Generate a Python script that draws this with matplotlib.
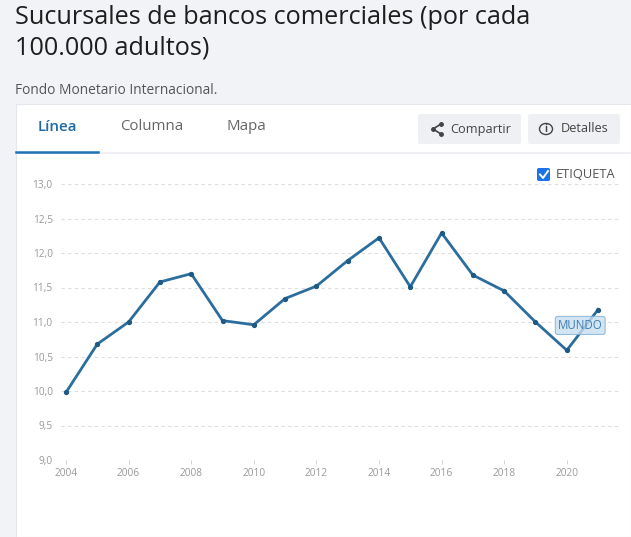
import matplotlib
matplotlib.use("Agg")
import matplotlib.pyplot as plt
from matplotlib.patches import Rectangle, FancyBboxPatch, Circle
from matplotlib.lines import Line2D

plt.rcParams['font.family'] = ['Open Sans', 'DejaVu Sans']

years = list(range(2004, 2022))
values = [9.98, 10.68, 11.00, 11.58, 11.70, 11.02, 10.96, 11.34, 11.52,
          11.89, 12.22, 11.51, 12.29, 11.68, 11.45, 11.00, 10.59, 11.18]
x_ticks = list(range(2004, 2021, 2))
y_ticks = [9.0, 9.5, 10.0, 10.5, 11.0, 11.5, 12.0, 12.5, 13.0]
series_label = "MUNDO"

W, H = 631, 537
fig = plt.figure(figsize=(W / 100, H / 100), dpi=100, facecolor='#f1f3f7')


def fx(px):
    return px / W


def fy(py):
    return 1 - py / H


# white card (behind the axes)
fig.add_artist(Rectangle((fx(16), 0), 1 - fx(16), fy(104), transform=fig.transFigure,
                         facecolor='white', edgecolor='#e4e7ec', lw=0.8, zorder=-10))

# header texts
fig.text(fx(15), fy(17), "Sucursales de bancos comerciales (por cada", fontsize=18.2,
         color='#1e1e1e', va='center', ha='left')
fig.text(fx(15), fy(48), "100.000 adultos)", fontsize=18.2, color='#1e1e1e', va='center', ha='left')
fig.text(fx(15), fy(91), "Fondo Monetario Internacional.", fontsize=9.9, color='#555555',
         va='center', ha='left')

# tabs
fig.text(fx(38), fy(127), "Línea", fontsize=10.8, color='#1d6aa5', weight='semibold',
         va='center', ha='left')
fig.text(fx(120), fy(127), "Columna", fontsize=10.8, color='#666666', va='center', ha='left')
fig.text(fx(226), fy(127), "Mapa", fontsize=10.8, color='#666666', va='center', ha='left')
fig.add_artist(Line2D([fx(16), 1], [fy(153), fy(153)], transform=fig.transFigure,
                      color='#eceef1', lw=1.2))
fig.add_artist(Line2D([fx(16), fx(98)], [fy(152), fy(152)], transform=fig.transFigure,
                      color='#1d72b8', lw=1.8))

# buttons
for x0, x1 in [(418, 521), (528, 620)]:
    fig.add_artist(FancyBboxPatch((fx(x0), fy(144)), fx(x1 - x0), fy(114) - fy(144),
                                  boxstyle='round,pad=0,rounding_size=0.004',
                                  transform=fig.transFigure, facecolor='#eef0f3',
                                  edgecolor='none'))
fig.text(fx(450), fy(129), "Compartir", fontsize=9.2, color='#444444', va='center', ha='left')
fig.text(fx(561), fy(129), "Detalles", fontsize=9.2, color='#444444', va='center', ha='left')
# share icon
fig.add_artist(Line2D([fx(441), fx(433), fx(441)], [fy(124), fy(129), fy(134)],
                      transform=fig.transFigure, color='#444444', lw=1.2,
                      marker='o', markersize=2.5))
# info icon
fig.add_artist(Circle((fx(546), fy(129)), 6.5 / W, transform=fig.transFigure,
                      facecolor='none', edgecolor='#444444', lw=1.0))
fig.text(fx(546), fy(129.5), "i", fontsize=7, color='#444444', va='center', ha='center',
         weight='bold')

# checkbox legend
fig.add_artist(FancyBboxPatch((fx(537), fy(181)), fx(13), fy(168) - fy(181),
                              boxstyle='round,pad=0,rounding_size=0.003',
                              transform=fig.transFigure, facecolor='#1a73e8', edgecolor='none'))
fig.add_artist(Line2D([fx(540), fx(543), fx(548)], [fy(174.5), fy(178), fy(171)],
                      transform=fig.transFigure, color='white', lw=1.4))
fig.text(fx(556), fy(175), "ETIQUETA", fontsize=9.3, color='#555555', va='center', ha='left')

# chart
ax = fig.add_axes([fx(61), fy(460), fx(620 - 61), fy(184) - fy(460)])
ax.set_facecolor('none')
ax.plot(years, values, color='#2b6e9e', lw=2.0, marker='o', markersize=2.8,
        markerfacecolor='#1f5a85', markeredgecolor='#1f5a85', zorder=3)
ax.set_xlim(2003.84, 2021.7)
ax.set_ylim(9, 13)
ax.set_yticks(y_ticks)
ax.set_yticklabels([f"{v:.1f}".replace('.', ',') for v in y_ticks])
ax.set_xticks(x_ticks)
ax.set_xticklabels([str(x) for x in x_ticks])
ax.tick_params(axis='y', length=0, labelsize=7.3, labelcolor='#999999', pad=6)
ax.tick_params(axis='x', length=3, width=0.6, color='#cccccc', labelsize=7.3,
               labelcolor='#999999', pad=3)
ax.grid(axis='y', color='#dddddd', ls=(0, (3, 3)), lw=0.8)
for s in ax.spines.values():
    s.set_visible(False)

# series label
ax.annotate(series_label, xy=(2020.43, 10.95), ha='center', va='center', fontsize=8.3,
            color='#3d7fb3', zorder=4,
            bbox=dict(boxstyle='round,pad=0.22,rounding_size=0.2', facecolor='#c9def0',
                      edgecolor='#7fb0d8', alpha=0.8, lw=0.8))

fig.savefig("out.png", dpi=100, facecolor=fig.get_facecolor())
